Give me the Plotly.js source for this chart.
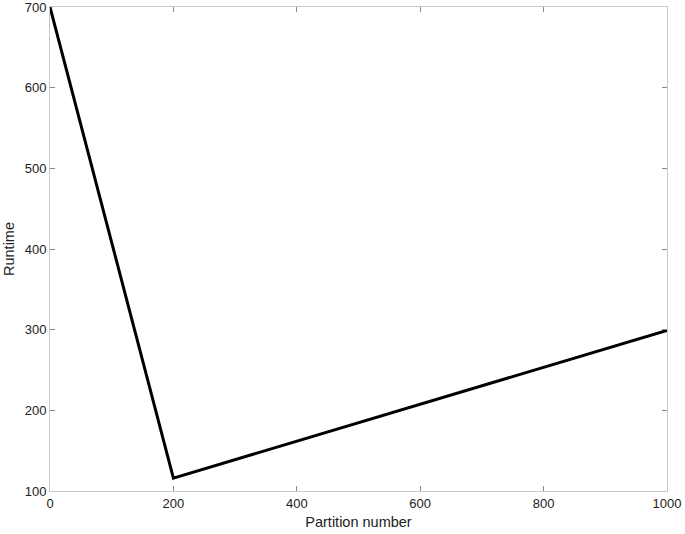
<!DOCTYPE html>
<html>
<head>
<meta charset="utf-8">
<script src="https://cdn.plot.ly/plotly-3.0.1.min.js"></script>
<style>
  html, body { margin: 0; padding: 0; background: #fff; }
  #chart { width: 685px; height: 534px; }
</style>
</head>
<body>
<div id="chart"></div>
<script>
// partition count vs runtime
var partitions = [0, 200, 1000];
var runtimes = [700, 116, 299];

var trace = {
  x: partitions,
  y: runtimes,
  type: 'scatter',
  mode: 'lines',
  line: { color: '#000', width: 3 },
  hoverinfo: 'x+y'
};

var axisBase = {
  showgrid: false,
  zeroline: false,
  showline: true,
  linecolor: '#c8c8c8',
  linewidth: 1,
  mirror: 'allticks',
  ticks: 'inside',
  ticklen: 5,
  tickcolor: '#888',
  ticklabeloverflow: 'allow',
  tickfont: { family: 'Liberation Sans, Arial, sans-serif', size: 13, color: '#222' }
};

var layout = {
  width: 685,
  height: 534,
  margin: { l: 50, r: 18, t: 7, b: 43 },
  paper_bgcolor: '#fff',
  plot_bgcolor: '#fff',
  showlegend: false,
  font: { family: 'Liberation Sans, Arial, sans-serif', color: '#222' },
  xaxis: Object.assign({}, axisBase, {
    range: [0, 1000],
    tickvals: [0, 200, 400, 600, 800, 1000],
    title: { text: 'Partition number', font: { size: 14.5 }, standoff: 7 }
  }),
  yaxis: Object.assign({}, axisBase, {
    range: [100, 700],
    tickvals: [100, 200, 300, 400, 500, 600, 700],
    title: { text: 'Runtime', font: { size: 14.5 }, standoff: 6 }
  })
};

Plotly.newPlot('chart', [trace], layout, { displayModeBar: false, staticPlot: true });
</script>
</body>
</html>
